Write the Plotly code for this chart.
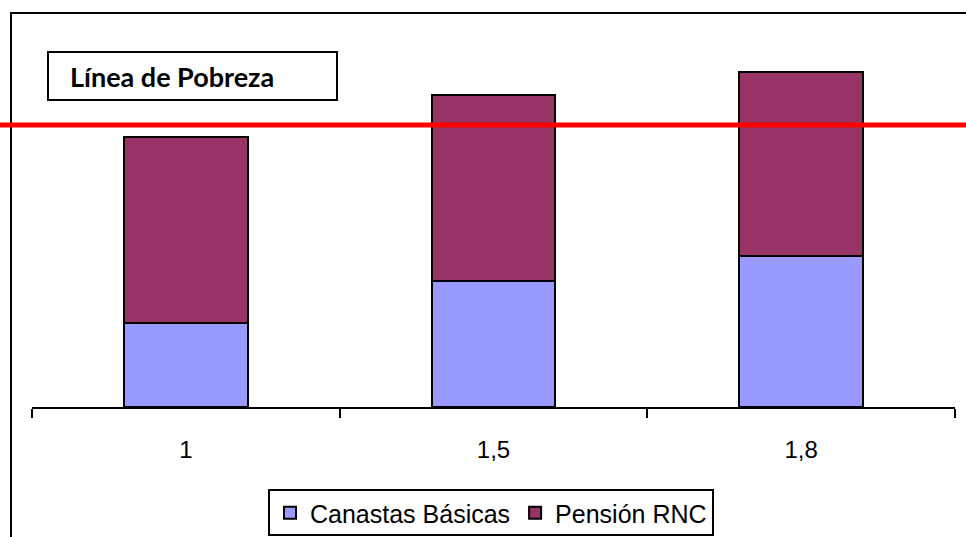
import plotly.graph_objects as go

categorias = ["1", "1,5", "1,8"]
canastas_basicas = [84, 126, 151]
pension_rnc = [186, 186, 184]
linea_pobreza = 282
series_names = ["Canastas Básicas", "Pensión RNC"]
series_colors = ["#9999FF", "#993366"]
y_max = 394

W, H = 966, 537
L, R, T, B = 32, 11, 13, 130
pw = W - L - R
ph = H - T - B

def px_x(x):
    return (x - L) / pw

def px_y(y):
    return (H - B - y) / ph

fig = go.Figure()
fig.add_trace(go.Bar(x=categorias, y=canastas_basicas, name=series_names[0],
                     marker=dict(color=series_colors[0], line=dict(color="black", width=2))))
fig.add_trace(go.Bar(x=categorias, y=pension_rnc, name=series_names[1],
                     marker=dict(color=series_colors[1], line=dict(color="black", width=2))))

shapes = [
    # outer frame
    dict(type="rect", xref="paper", yref="paper", x0=px_x(11), x1=px_x(1000),
         y0=px_y(600), y1=px_y(13), line=dict(color="black", width=2), layer="below"),
    # poverty line
    dict(type="line", xref="paper", yref="y", x0=px_x(0), x1=px_x(966),
         y0=linea_pobreza, y1=linea_pobreza, line=dict(color="#FF0000", width=5), layer="above"),
    # label box
    dict(type="rect", xref="paper", yref="paper", x0=px_x(48), x1=px_x(337),
         y0=px_y(100), y1=px_y(52), line=dict(color="black", width=2),
         fillcolor="white", layer="above"),
    # legend box
    dict(type="rect", xref="paper", yref="paper", x0=px_x(269), x1=px_x(713),
         y0=px_y(535), y1=px_y(490), line=dict(color="black", width=2), layer="above"),
]

fig.update_layout(
    width=W, height=H,
    margin=dict(l=L, r=R, t=T, b=B, autoexpand=False),
    paper_bgcolor="white", plot_bgcolor="white",
    barmode="stack", bargap=0.597,
    showlegend=True,
    legend=dict(orientation="h", x=px_x(491), xanchor="center", y=px_y(513), yanchor="middle",
                traceorder="normal", bgcolor="rgba(0,0,0,0)",
                borderwidth=0, font=dict(family="Liberation Sans, Arial", size=25, color="black"),
                itemsizing="constant", tracegroupgap=0, itemwidth=30),
    xaxis=dict(type="category", range=[-0.5, 2.5], showline=True, linecolor="black", linewidth=2,
               ticks="outside", ticklen=9, tickwidth=2, tickcolor="black", tickson="boundaries",
               showgrid=False, zeroline=False, ticklabelstandoff=20,
               tickfont=dict(family="Liberation Sans, Arial", size=24, color="black")),
    yaxis=dict(range=[0, y_max], visible=False, showgrid=False, zeroline=False),
    shapes=shapes,
    annotations=[dict(xref="paper", yref="paper", x=px_x(68), y=px_y(76), xanchor="left", yanchor="middle",
                      text="<b>Línea de Pobreza</b>", showarrow=False,
                      font=dict(family="Lato", size=27, color="black"))],
)

fig.write_html("out.html", config={"displayModeBar": False},
               post_script="document.body.style.margin='0';document.body.style.overflow='hidden';")
